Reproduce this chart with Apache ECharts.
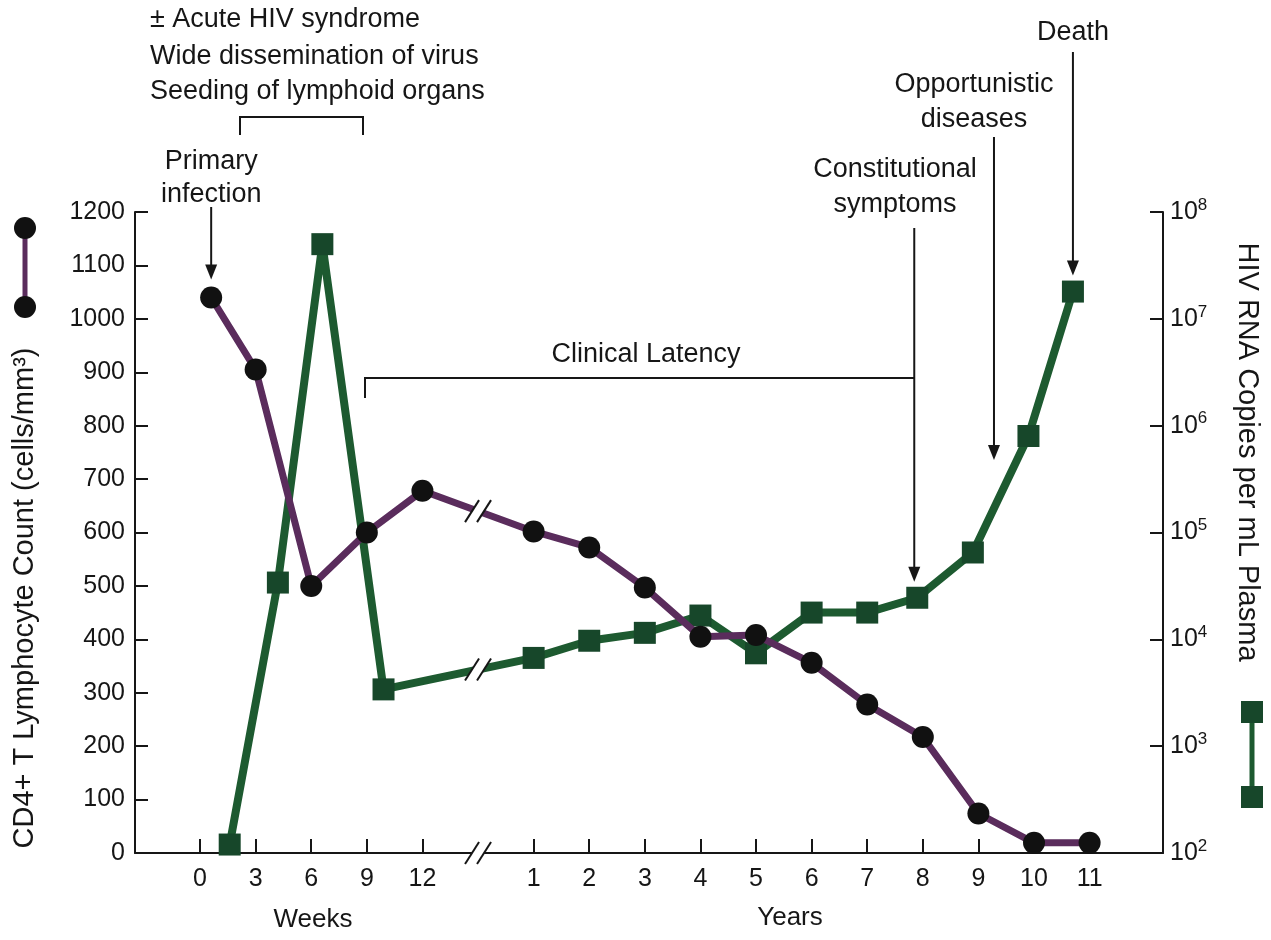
<!DOCTYPE html>
<html>
<head>
<meta charset="utf-8">
<title>Course of HIV infection</title>
<script src="https://cdn.jsdelivr.net/npm/echarts@6.0.0/dist/echarts.min.js"></script>
<style>
  html, body { margin: 0; padding: 0; background: #fff; }
  #chart { width: 1271px; height: 940px; }
</style>
</head>
<body>
<div id="chart"></div>
<script>
// x axis: weeks sit at week/3, years at 5 + year (the break is at 5)
const weekTicks = [0, 3, 6, 9, 12];
const yearTicks = [1, 2, 3, 4, 5, 6, 7, 8, 9, 10, 11];

// CD4+ T lymphocyte count (cells/mm3)
const cd4Weeks = [0.6, 3, 6, 9, 12];
const cd4WeekValues = [1040, 905, 500, 600, 678];
const cd4Years = [1, 2, 3, 4, 5, 6, 7, 8, 9, 10, 11];
const cd4YearValues = [602, 572, 497, 405, 408, 356, 278, 217, 74, 19, 19];

// HIV RNA copies per mL plasma
const rnaWeeks = [1.6, 4.2, 6.6, 9.9];
const rnaWeekValues = [120, 34000, 50000000, 3400];
const rnaYears = [1, 2, 3, 4, 5, 6, 7, 7.9, 8.9, 9.9, 10.7];
const rnaYearValues = [6700, 9700, 11500, 16700, 7400, 17800, 17800, 24500, 65000, 800000, 18000000];

const FONT = '"Liberation Sans", Arial, sans-serif';
const INK = '#161616';
const PURPLE = '#5a2c5c';
const GREEN = '#1d5a30';
const GREEN_DARK = '#17472a';

const weekPos = w => w / 3;
const yearPos = y => 5 + y;

const tickPos = [...weekTicks.map(weekPos), ...yearTicks.map(yearPos)];
const tickText = {};
weekTicks.forEach(w => { tickText[weekPos(w)] = String(w); });
yearTicks.forEach(y => { tickText[yearPos(y)] = String(y); });

const cd4Data = [
  ...cd4Weeks.map((w, i) => [weekPos(w), cd4WeekValues[i]]),
  ...cd4Years.map((y, i) => [yearPos(y), cd4YearValues[i]])
];
const rnaData = [
  ...rnaWeeks.map((w, i) => [weekPos(w), rnaWeekValues[i]]),
  ...rnaYears.map((y, i) => [yearPos(y), rnaYearValues[i]])
];

const chart = echarts.init(document.getElementById('chart'));

const option = {
  animation: false,
  backgroundColor: '#fff',
  grid: { left: 135, right: 108, top: 212, bottom: 87 },
  xAxis: {
    type: 'value',
    min: -1.17,
    max: 17.32,
    axisLine: { onZero: false, lineStyle: { color: INK, width: 2 } },
    axisTick: {
      show: true, inside: true, length: 14,
      customValues: tickPos,
      lineStyle: { color: INK, width: 2 }
    },
    axisLabel: {
      customValues: tickPos,
      formatter: v => tickText[v] || '',
      color: INK, fontFamily: FONT, fontSize: 25, margin: 14
    },
    splitLine: { show: false }
  },
  yAxis: [
    {
      type: 'value',
      min: 0, max: 1200, interval: 100,
      axisLine: { show: true, onZero: false, lineStyle: { color: INK, width: 2 } },
      axisTick: { show: true, inside: true, length: 13, lineStyle: { color: INK, width: 2 } },
      axisLabel: { color: INK, fontFamily: FONT, fontSize: 25, margin: 10, formatter: v => String(v) },
      splitLine: { show: false }
    },
    {
      type: 'log',
      logBase: 10,
      min: 100, max: 100000000,
      position: 'right',
      axisLine: { show: true, onZero: false, lineStyle: { color: INK, width: 2 } },
      axisTick: { show: true, inside: true, length: 13, lineStyle: { color: INK, width: 2 } },
      axisLabel: {
        color: INK, fontFamily: FONT, fontSize: 25, margin: 7,
        formatter: v => '10{s|' + Math.round(Math.log10(v)) + '}',
        rich: { s: { fontFamily: FONT, fontSize: 17, color: INK, padding: [0, 0, 14, 0] } }
      },
      splitLine: { show: false }
    }
  ],
  series: [
    {
      name: 'HIV RNA',
      type: 'line',
      yAxisIndex: 1,
      data: rnaData,
      symbol: 'rect',
      symbolSize: 22,
      itemStyle: { color: GREEN_DARK },
      lineStyle: { color: GREEN, width: 8, join: 'bevel' },
      z: 2
    },
    {
      name: 'CD4+',
      type: 'line',
      yAxisIndex: 0,
      data: cd4Data,
      symbol: 'circle',
      symbolSize: 22,
      itemStyle: { color: '#111' },
      lineStyle: { color: PURPLE, width: 7, join: 'bevel' },
      z: 3
    }
  ]
};

chart.setOption(option);

// ---- annotations ----
const px = (p, v, axis) => chart.convertToPixel({ xAxisIndex: 0, yAxisIndex: axis }, [p, v]);

function txt(s, x, y, align, size) {
  return {
    type: 'text', z: 10,
    style: { text: s, x: x, y: y, fill: INK, font: (size || 27) + 'px ' + FONT, align: align || 'center', verticalAlign: 'middle' }
  };
}
function arrow(x, y1, y2) {
  return [
    { type: 'line', z: 10, shape: { x1: x, y1: y1, x2: x, y2: y2 - 10 }, style: { stroke: INK, lineWidth: 2 } },
    { type: 'polygon', z: 10, shape: { points: [[x - 6, y2 - 15], [x + 6, y2 - 15], [x, y2]] }, style: { fill: INK } }
  ];
}
function breakMark(cx, cy) {
  const a = 7, h = 11, g = 6;
  return [
    { type: 'polygon', z: 20, shape: { points: [[cx - g - a, cy + h], [cx - g + a, cy - h], [cx + g + a, cy - h], [cx + g - a, cy + h]] }, style: { fill: '#fff' } },
    { type: 'line', z: 21, shape: { x1: cx - g - a, y1: cy + h, x2: cx - g + a, y2: cy - h }, style: { stroke: INK, lineWidth: 2 } },
    { type: 'line', z: 21, shape: { x1: cx + g - a, y1: cy + h, x2: cx + g + a, y2: cy - h }, style: { stroke: INK, lineWidth: 2 } }
  ];
}
// y of a series line at the break position, found from its two neighbours
function lineBreakPoint(data, axis) {
  const i = data.findIndex(d => d[0] > 5);
  const a = px(data[i - 1][0], data[i - 1][1], axis);
  const b = px(data[i][0], data[i][1], axis);
  const x = px(5, 1, axis)[0];
  const t = (x - a[0]) / (b[0] - a[0]);
  return [x, a[1] + t * (b[1] - a[1])];
}

const g = [];
const bx = px(5, 0, 0);
g.push(...breakMark(bx[0], bx[1]));
const cb = lineBreakPoint(cd4Data, 0);
g.push(...breakMark(cb[0], cb[1]));
const rb = lineBreakPoint(rnaData, 1);
g.push(...breakMark(rb[0], rb[1]));

// top-left notes
g.push(txt('\u00b1 Acute HIV syndrome', 150, 20, 'left'));
g.push(txt('Wide dissemination of virus', 150, 57, 'left'));
g.push(txt('Seeding of lymphoid organs', 150, 92, 'left'));
g.push({ type: 'polyline', z: 10, shape: { points: [[240, 135], [240, 117], [363, 117], [363, 135]] }, style: { stroke: INK, lineWidth: 2, fill: null } });

// primary infection
const p0 = px(cd4Data[0][0], cd4Data[0][1], 0);
g.push(txt('Primary', p0[0], 162));
g.push(txt('infection', p0[0], 195));
g.push(...arrow(p0[0], 207, p0[1] - 18));

// clinical latency bracket + constitutional symptoms arrow
const p8 = px(rnaData[11][0], rnaData[11][1], 1);
g.push(txt('Clinical Latency', 646, 355));
g.push({ type: 'polyline', z: 10, shape: { points: [[365, 398], [365, 378], [p8[0] - 3, 378]] }, style: { stroke: INK, lineWidth: 2, fill: null } });
g.push(txt('Constitutional', 895, 170));
g.push(txt('symptoms', 895, 205));
g.push(...arrow(p8[0] - 3, 228, p8[1] - 16));

// opportunistic diseases
const pOpp = px(yearPos(9.28), 1, 0);
g.push(txt('Opportunistic', 974, 85));
g.push(txt('diseases', 974, 120));
g.push(...arrow(pOpp[0], 137, 460));

// death
const pEnd = px(rnaData[rnaData.length - 1][0], rnaData[rnaData.length - 1][1], 1);
g.push(txt('Death', pEnd[0], 33));
g.push(...arrow(pEnd[0], 52, pEnd[1] - 16));

// axis group names
g.push(txt('Weeks', 313, 920, 'center', 26));
g.push(txt('Years', 790, 918, 'center', 26));

// axis titles
g.push({ type: 'text', z: 10, x: 25, y: 598, rotation: Math.PI / 2,
  style: { text: 'CD4+ T Lymphocyte Count (cells/mm\u00b3)', fill: INK, font: '29px ' + FONT, align: 'center', verticalAlign: 'middle' } });
g.push({ type: 'text', z: 10, x: 1247, y: 452, rotation: -Math.PI / 2,
  style: { text: 'HIV RNA Copies per mL Plasma', fill: INK, font: '29px ' + FONT, align: 'center', verticalAlign: 'middle' } });

// left key: circle - line - circle
g.push({ type: 'line', z: 10, shape: { x1: 25, y1: 228, x2: 25, y2: 307 }, style: { stroke: PURPLE, lineWidth: 5 } });
g.push({ type: 'circle', z: 11, shape: { cx: 25, cy: 228, r: 11 }, style: { fill: '#111' } });
g.push({ type: 'circle', z: 11, shape: { cx: 25, cy: 307, r: 11 }, style: { fill: '#111' } });
// right key: square - line - square
g.push({ type: 'line', z: 10, shape: { x1: 1252, y1: 712, x2: 1252, y2: 797 }, style: { stroke: GREEN, lineWidth: 5 } });
g.push({ type: 'rect', z: 11, shape: { x: 1241, y: 701, width: 22, height: 22 }, style: { fill: GREEN_DARK } });
g.push({ type: 'rect', z: 11, shape: { x: 1241, y: 786, width: 22, height: 22 }, style: { fill: GREEN_DARK } });

chart.setOption({ graphic: g });
</script>
</body>
</html>
